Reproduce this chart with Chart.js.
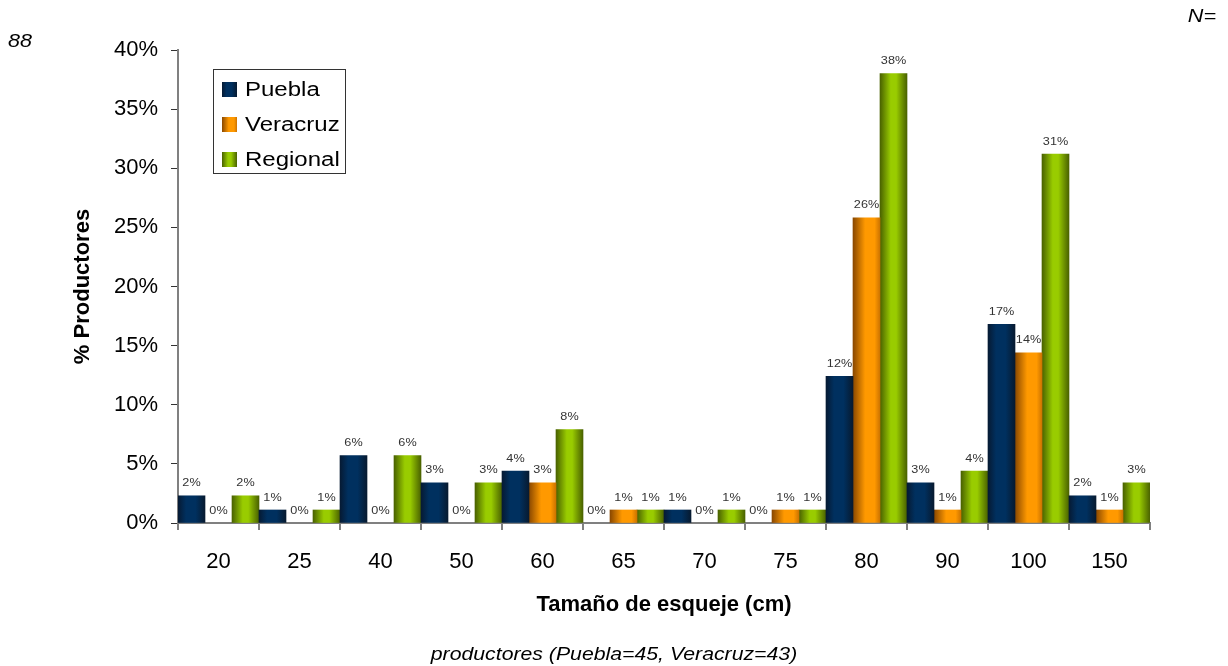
<!DOCTYPE html>
<html>
<head>
<meta charset="utf-8">
<script src="https://cdn.jsdelivr.net/npm/chart.js@4"></script>
<style>
  html, body { margin: 0; padding: 0; background: #fff; }
  #wrap { width: 1228px; height: 666px; position: relative; }
</style>
</head>
<body>
<div id="wrap"><canvas id="c" width="1228" height="666"></canvas></div>
<script>
const categories = ['20', '25', '40', '50', '60', '65', '70', '75', '80', '90', '100', '150'];
const puebla   = [2.3, 1.1, 5.7, 3.4, 4.4, 0, 1.1, 0, 12.4, 3.4, 16.8, 2.3];
const veracruz = [0, 0, 0, 0, 3.4, 1.1, 0, 1.1, 25.8, 1.1, 14.4, 1.1];
const regional = [2.3, 1.1, 5.7, 3.4, 7.9, 1.1, 1.1, 1.1, 38.0, 4.4, 31.2, 3.4];
const seriesNames = ['Puebla', 'Veracruz', 'Regional'];
const yTicks = [0, 5, 10, 15, 20, 25, 30, 35, 40];

const FONT = 'Liberation Sans, Arial, sans-serif';

// gradient stops per series: [offset, color]
const gradStops = [
  [[0, '#061a33'], [0.3, '#00305f'], [0.65, '#00305f'], [1, '#071a30']],
  [[0, '#8a4800'], [0.45, '#ff9900'], [0.8, '#ff9900'], [1, '#cc7300']],
  [[0, '#4a6200'], [0.4, '#99cc00'], [0.6, '#99cc00'], [1, '#4a6200']]
];
const swatchColors = ['#002a55', '#f08c00', '#88b800'];

function stretchText(ctx, text, x, y, sx, align) {
  ctx.save();
  ctx.translate(x, y);
  ctx.scale(sx, 1);
  ctx.textAlign = align;
  ctx.fillText(text, 0, 0);
  ctx.restore();
}

const gradientPlugin = {
  id: 'gradBars',
  beforeDatasetsDraw(chart) {
    const ctx = chart.ctx;
    chart.data.datasets.forEach((ds, di) => {
      const meta = chart.getDatasetMeta(di);
      meta.data.forEach((el, i) => {
        if (!ds.data[i]) {
          el.options = Object.assign({}, el.options, { backgroundColor: 'rgba(0,0,0,0)' });
          return;
        }
        const w = el.width;
        const g = ctx.createLinearGradient(el.x - w / 2, 0, el.x + w / 2, 0);
        gradStops[di].forEach(s => g.addColorStop(s[0], s[1]));
        el.options = Object.assign({}, el.options, { backgroundColor: g });
      });
    });
  },
  afterDatasetsDraw(chart) {
    const ctx = chart.ctx;
    ctx.save();
    ctx.font = '11px ' + FONT;
    ctx.fillStyle = '#333333';
    ctx.textBaseline = 'bottom';
    chart.data.datasets.forEach((ds, di) => {
      const meta = chart.getDatasetMeta(di);
      meta.data.forEach((el, i) => {
        const v = ds.data[i];
        stretchText(ctx, Math.round(v) + '%', el.x, el.y - 7, 1.15, 'center');
      });
    });
    ctx.restore();
  },
  afterDraw(chart) {
    const ctx = chart.ctx;
    ctx.save();
    // legend box
    const lx = 213.5, ly = 69.5, lw = 132, lh = 104;
    ctx.fillStyle = '#ffffff';
    ctx.fillRect(lx, ly, lw, lh);
    ctx.strokeStyle = '#333333';
    ctx.lineWidth = 1;
    ctx.strokeRect(lx, ly, lw, lh);
    ctx.font = '20px ' + FONT;
    ctx.textBaseline = 'middle';
    chart.data.datasets.forEach((ds, di) => {
      const cy = 89 + di * 35;
      const g = ctx.createLinearGradient(222, 0, 237, 0);
      gradStops[di].forEach(s => g.addColorStop(s[0], s[1]));
      ctx.fillStyle = g;
      ctx.fillRect(222, cy - 7, 15, 15);
      ctx.fillStyle = '#000000';
      stretchText(ctx, ds.label, 245, cy + 1, 1.2, 'left');
    });
    // extra texts
    ctx.font = 'italic 18px ' + FONT;
    ctx.fillStyle = '#000000';
    stretchText(ctx, '88', 8, 42, 1.2, 'left');
    stretchText(ctx, 'N=', 1216, 17, 1.2, 'right');
    stretchText(ctx, 'productores (Puebla=45, Veracruz=43)', 614, 655, 1.18, 'center');
    ctx.restore();
  }
};

const chart = new Chart(document.getElementById('c'), {
  type: 'bar',
  data: {
    labels: categories,
    datasets: [
      { label: seriesNames[0], data: puebla, backgroundColor: swatchColors[0] },
      { label: seriesNames[1], data: veracruz, backgroundColor: swatchColors[1] },
      { label: seriesNames[2], data: regional, backgroundColor: swatchColors[2] }
    ]
  },
  options: {
    responsive: false,
    animation: false,
    devicePixelRatio: 1,
    layout: { padding: { left: 66, top: 50, right: 78, bottom: 0 } },
    datasets: { bar: { categoryPercentage: 1.0, barPercentage: 1.0 } },
    plugins: {
      legend: { display: false },
      tooltip: { enabled: false }
    },
    scales: {
      x: {
        grid: {
          display: true,
          drawOnChartArea: false,
          drawTicks: true,
          tickLength: 7,
          color: '#808080',
          lineWidth: 2,
          offset: true
        },
        border: { display: true, color: '#808080', width: 2 },
        ticks: {
          font: { family: FONT, size: 22 },
          color: '#000000',
          padding: 19
        },
        title: {
          display: true,
          text: 'Tamaño de esqueje (cm)',
          font: { family: FONT, size: 22, weight: 'bold' },
          color: '#000000',
          padding: { top: 10, bottom: 48 }
        },
        afterFit(scale) { scale.height = 143; }
      },
      y: {
        min: 0,
        max: 40,
        afterBuildTicks(scale) { scale.ticks = yTicks.map(v => ({ value: v })); },
        grid: {
          display: true,
          drawOnChartArea: false,
          drawTicks: true,
          tickLength: 7,
          color: '#333333',
          lineWidth: 1
        },
        border: { display: true, color: '#808080', width: 2 },
        ticks: {
          font: { family: FONT, size: 22 },
          color: '#000000',
          padding: 13,
          callback: (v) => v + '%'
        },
        title: {
          display: true,
          text: '% Productores',
          font: { family: FONT, size: 22, weight: 'bold' },
          color: '#000000',
          padding: 4
        },
        afterFit(scale) { scale.width = 112; }
      }
    }
  },
  plugins: [gradientPlugin]
});
</script>
</body>
</html>
